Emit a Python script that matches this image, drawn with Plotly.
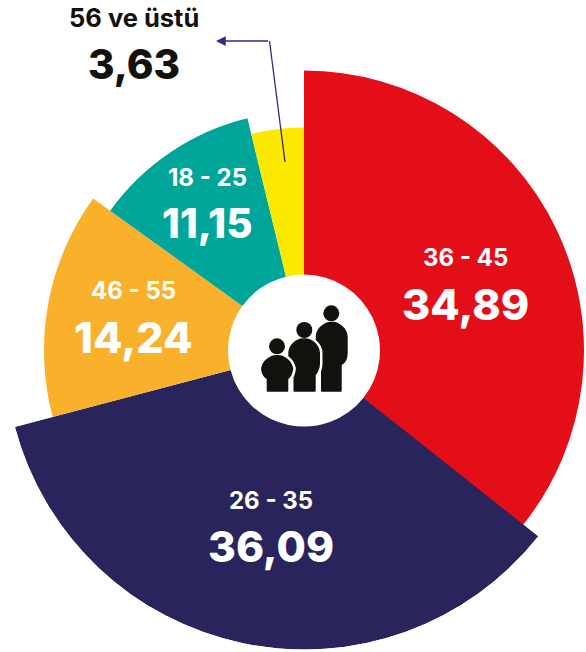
import numpy as np
import plotly.graph_objects as go

W, H = 586, 652
CX, CY = 304, 350.5

age_groups = ["36 - 45", "26 - 35", "46 - 55", "18 - 25", "56 ve üstü"]
value_labels = ["34,89", "36,09", "14,24", "11,15", "3,63"]
sweep_deg = [128.7, 126.5, 50.6, 40.5, 13.7]
outer_radius = [280, 299, 260, 239, 223]
colors = ["#E30E18", "#29245C", "#F9B12C", "#00A59A", "#FBEA00"]
hole_radius = 76
label_xy = [(465, 258), (271, 500), (133, 290), (207, 177), (134, 18)]
value_xy = [(465, 304), (271, 546), (133, 337), (207, 223), (134, 65)]
label_sizes = [24, 24, 24, 24, 25.5]
value_sizes = [43, 42.5, 43, 40.5, 40.5]
text_colors = ["white", "white", "white", "white", "#12110D"]

sweep = np.array(sweep_deg)
ends = np.cumsum(sweep)
mids = ends - sweep / 2
radii = np.array(outer_radius, dtype=float)
big = int(np.argmax(radii))
rest = [i for i in range(len(radii)) if i != big]
SEAM = 0.3  # degrees the largest slice overlaps its neighbour, hides the antialiased gap


def px(x, y):
    return x / W, 1 - y / H


fig = go.Figure()
fig.add_trace(go.Barpolar(
    theta=mids[rest], width=sweep[rest], r=radii[rest] - hole_radius, base=hole_radius,
    marker=dict(color=[colors[i] for i in rest], line=dict(width=0)),
    subplot="polar", hoverinfo="skip", showlegend=False,
))
fig.add_trace(go.Barpolar(
    theta=[mids[big] - SEAM / 2], width=[sweep[big] + SEAM], r=[radii[big] - hole_radius],
    base=hole_radius,
    marker=dict(color=[colors[big]], line=dict(width=0)),
    subplot="polar2", hoverinfo="skip", showlegend=False,
))


def polar_axes(rmax, **kw):
    return dict(
        bgcolor="rgba(0,0,0,0)",
        radialaxis=dict(visible=False, range=[0, rmax]),
        angularaxis=dict(visible=False, rotation=90, direction="clockwise"),
        **kw,
    )


R1 = 281
R2 = float(radii[big])
start_b = 90 - (ends[big] - sweep[big]) + SEAM
end_b = 90 - ends[big]
sector = [end_b + 360, start_b + 360]
x0b = CX + R2 * np.cos(np.radians(end_b))
x1b = CX + R2 * np.cos(np.radians(start_b))

fig.update_layout(
    width=W, height=H,
    margin=dict(l=0, r=0, t=0, b=0),
    paper_bgcolor="white",
    plot_bgcolor="white",
    showlegend=False,
    polar=polar_axes(R1, domain=dict(x=[(CX - R1) / W, (CX + R1) / W],
                                     y=[1 - (CY + R1) / H, 1 - (CY - R1) / H])),
    polar2=polar_axes(R2, sector=sector,
                      domain=dict(x=[x0b / W, x1b / W],
                                  y=[1 - (CY + R2) / H, 1 - CY / H])),
)

FONT = "Inter"
anns = []
for i in range(len(age_groups)):
    lx, ly = px(*label_xy[i])
    vx, vy = px(*value_xy[i])
    anns.append(dict(x=lx, y=ly, xref="paper", yref="paper", text=age_groups[i], showarrow=False,
                     xanchor="center", yanchor="middle",
                     font=dict(family=FONT, size=label_sizes[i], color=text_colors[i], weight=700)))
    anns.append(dict(x=vx, y=vy, xref="paper", yref="paper", text=value_labels[i], showarrow=False,
                     xanchor="center", yanchor="middle",
                     font=dict(family=FONT, size=value_sizes[i], color=text_colors[i], weight=800)))

# pointer from the yellow slice to its label
ARROW = "#2F2A85"
a1 = px(216, 41)
anns.append(dict(x=a1[0], y=a1[1], ax=53.5, ay=0, xref="paper", yref="paper",
                 axref="pixel", ayref="pixel", text="", showarrow=True,
                 arrowhead=2, arrowsize=1.5, arrowwidth=1.3, arrowcolor=ARROW))
fig.update_layout(annotations=anns)


def path(cmds):
    out = []
    for c in cmds:
        out.append(c[0] + " " + " ".join(
            "%.5f %.5f" % px(c[k], c[k + 1]) for k in range(1, len(c), 2)))
    return " ".join(out) + " Z"


def person(left, right, top, bottom, leg_l, leg_r, arm_y):
    r = (right - left) * 0.47
    return path([
        ("M", leg_l + 2, bottom),
        ("C", leg_l, bottom, leg_l, bottom, leg_l, bottom - 2),
        ("L", leg_l, arm_y + 3),
        ("C", left + 2, arm_y + 1, left, arm_y - 4, left, arm_y - 9),
        ("L", left, top + r),
        ("C", left, top + r * 0.4, left + r * 0.6, top, left + r, top),
        ("L", right - r, top),
        ("C", right - r * 0.6, top, right, top + r * 0.4, right, top + r),
        ("L", right, arm_y - 9),
        ("C", right, arm_y - 4, right - 2, arm_y + 1, leg_r, arm_y + 3),
        ("L", leg_r, bottom - 2),
        ("C", leg_r, bottom, leg_r, bottom, leg_r - 2, bottom),
    ])


shapes = []
INK = "#12110D"
# (body box) + head, drawn back to front so nearer figures cut the ones behind
people = [
    dict(body=(315.7, 347.7, 321.7, 391.7, 321, 341.7, 362), head=(331.3, 313.3)),
    dict(body=(288.3, 320.0, 338.3, 391.7, 293.5, 315.7, 372), head=(304.3, 330.0)),
    dict(body=(261.0, 293.3, 355.0, 391.7, 266.7, 288.3, 376), head=(277.0, 346.3)),
]
for p in people:
    d = person(*p["body"])
    shapes.append(dict(type="path", xref="paper", yref="paper", path=d,
                       fillcolor="white", line=dict(color="white", width=5), layer="above"))
    shapes.append(dict(type="path", xref="paper", yref="paper", path=d,
                       fillcolor=INK, line=dict(width=0), layer="above"))
    hx, hy = p["head"]
    x0, y0 = px(hx - 8, hy - 8)
    x1, y1 = px(hx + 8, hy + 8)
    shapes.append(dict(type="circle", xref="paper", yref="paper", x0=x0, y0=y0, x1=x1, y1=y1,
                       fillcolor=INK, line=dict(width=0), layer="above"))

l0 = px(285, 162)
l1 = px(269.5, 41)
shapes.append(dict(type="line", xref="paper", yref="paper", x0=l0[0], y0=l0[1], x1=l1[0], y1=l1[1],
                   line=dict(color=ARROW, width=1.3), layer="above"))
fig.update_layout(shapes=shapes)

fig.write_html("out.html", config=dict(displayModeBar=False),
               post_script="document.body.style.margin='0';document.documentElement.style.overflow='hidden';")
